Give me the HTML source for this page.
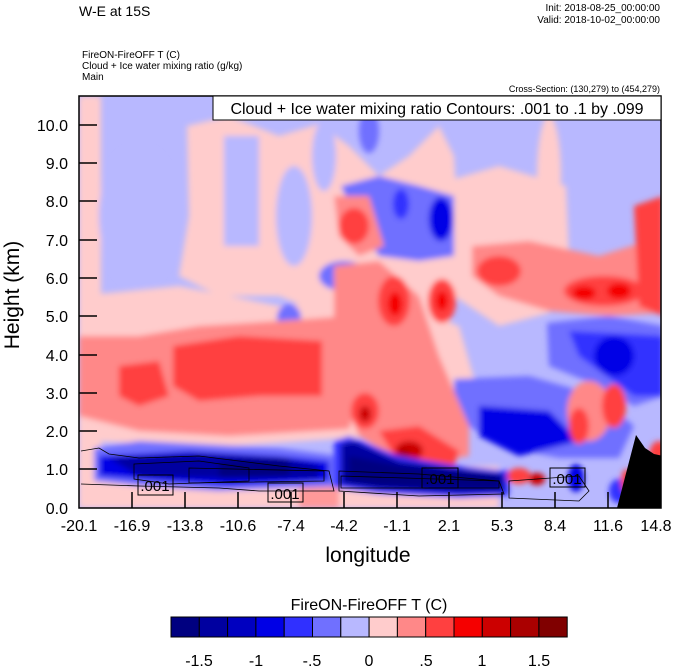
<!DOCTYPE html>
<html><head><meta charset="utf-8"><style>
html,body{margin:0;padding:0;background:#fff;width:674px;height:667px;overflow:hidden}
svg{display:block}
text{font-family:"Liberation Sans",sans-serif}
</style></head><body>
<svg width="674" height="667" xmlns="http://www.w3.org/2000/svg">
<defs>
<clipPath id="pc"><rect x="79" y="96" width="582" height="412"/></clipPath>
<filter id="bl" filterUnits="userSpaceOnUse" x="-20" y="-20" width="630" height="460"><feGaussianBlur stdDeviation="3"/></filter>
</defs>
<text x="79" y="16" font-size="14">W-E at 15S</text>
<text x="660" y="11" font-size="10" text-anchor="end">Init: 2018-08-25_00:00:00</text>
<text x="660" y="23" font-size="10" text-anchor="end">Valid: 2018-10-02_00:00:00</text>
<text x="82" y="58" font-size="10">FireON-FireOFF T   (C)</text>
<text x="82" y="69" font-size="10">Cloud + Ice water mixing ratio   (g/kg)</text>
<text x="82" y="80" font-size="10">Main</text>
<text x="660" y="92" font-size="9" text-anchor="end">Cross-Section: (130,279) to (454,279)</text>

<g clip-path="url(#pc)">
<g transform="translate(79,96)">
<rect x="0" y="0" width="582" height="412" fill="#b8b8ff"/>
<g filter="url(#bl)">
<rect x="0" y="0" width="22" height="412" fill="#ffcccc"/>
<path d="M108,30 L150,20 L200,40 L240,28 L270,50 L300,80 L330,60 L360,30 L375,60 L380,150 L370,233 L300,240 L200,200 L140,200 L100,180 L110,120 Z" fill="#ffcccc"/>
<path d="M0,200 L100,190 L200,210 L300,200 L380,230 L400,300 L380,340 L300,340 L150,350 L0,345 Z" fill="#ffcccc"/>
<path d="M375,83 L420,70 L487,90 L490,160 L470,217 L420,230 L375,200 Z" fill="#ffcccc"/>
<ellipse cx="470" cy="80" rx="12" ry="60" fill="#ffcccc"/>
<rect x="0" y="370" width="420" height="42" fill="#ffcccc"/>
<rect x="220" y="385" width="40" height="27" fill="#ff9999"/>
<rect x="145" y="40" width="35" height="110" fill="#b8b8ff"/>
<ellipse cx="60" cy="120" rx="40" ry="70" fill="#b8b8ff"/>
<ellipse cx="215" cy="120" rx="18" ry="50" fill="#b8b8ff"/>
<ellipse cx="245" cy="60" rx="12" ry="35" fill="#b8b8ff"/>
<path d="M262,90 L300,80 L340,90 L375,100 L375,160 L340,165 L300,160 L280,130 Z" fill="#7070ff"/>
<ellipse cx="362" cy="123" rx="12" ry="22" fill="#0000e6"/>
<ellipse cx="322" cy="108" rx="8" ry="15" fill="#3030ff"/>
<ellipse cx="290" cy="35" rx="10" ry="22" fill="#7070ff"/>
<ellipse cx="265" cy="180" rx="25" ry="15" fill="#7070ff"/>
<ellipse cx="265" cy="180" rx="10" ry="7" fill="#3030ff"/>
<ellipse cx="210" cy="222" rx="12" ry="14" fill="#7070ff"/>
<path d="M375,283 L450,280 L520,300 L555,330 L540,362 L480,362 L420,350 L375,320 Z" fill="#7070ff"/>
<path d="M400,310 L470,315 L500,345 L440,360 L400,340 Z" fill="#0000e6"/>
<path d="M468,227 L530,220 L584,230 L584,300 L555,310 L520,290 L470,270 Z" fill="#7070ff"/>
<path d="M490,235 L584,240 L584,300 L555,300 L500,260 Z" fill="#3030ff"/>
<ellipse cx="535" cy="260" rx="20" ry="20" fill="#0000e6"/>
<ellipse cx="300" cy="270" rx="30" ry="25" fill="#7070ff"/>
<ellipse cx="132" cy="315" rx="10" ry="20" fill="#7070ff"/>
<path d="M0,240 L60,240 L120,230 L200,225 L270,220 L280,300 L270,333 L150,340 L60,335 L0,320 Z" fill="#ff8888"/>
<path d="M94,250 L160,240 L243,245 L243,300 L180,300 L120,305 L94,290 Z" fill="#ff4040"/>
<path d="M40,270 L80,265 L90,300 L60,310 L40,300 Z" fill="#ff4040"/>
<path d="M255,170 L300,165 L340,200 L360,260 L390,330 L390,360 L330,370 L280,340 L255,280 Z" fill="#ff8888"/>
<ellipse cx="315" cy="205" rx="16" ry="25" fill="#ff4040"/>
<ellipse cx="316" cy="208" rx="7" ry="12" fill="#f50000"/>
<ellipse cx="286" cy="315" rx="14" ry="18" fill="#ff4040"/>
<ellipse cx="286" cy="318" rx="6" ry="8" fill="#cc0000"/>
<path d="M300,335 L340,330 L380,355 L375,370 L320,368 Z" fill="#ff4040"/>
<ellipse cx="330" cy="355" rx="14" ry="10" fill="#cc0000"/>
<ellipse cx="325" cy="358" rx="6" ry="5" fill="#aa0000"/>
<ellipse cx="363" cy="205" rx="14" ry="22" fill="#ff4040"/>
<ellipse cx="363" cy="205" rx="6" ry="10" fill="#f50000"/>
<path d="M255,100 L290,100 L305,150 L280,160 L260,140 Z" fill="#ff8888"/>
<ellipse cx="275" cy="130" rx="15" ry="18" fill="#ff4040"/>
<path d="M393,150 L450,145 L520,160 L584,140 L584,217 L530,220 L470,215 L420,200 L393,180 Z" fill="#ff8888"/>
<ellipse cx="420" cy="175" rx="22" ry="15" fill="#ff4040"/>
<ellipse cx="525" cy="195" rx="40" ry="15" fill="#ff4040"/>
<ellipse cx="505" cy="197" rx="12" ry="7" fill="#f50000"/>
<ellipse cx="540" cy="195" rx="12" ry="8" fill="#f50000"/>
<path d="M555,110 L584,100 L584,220 L560,210 Z" fill="#ff4040"/>
<ellipse cx="510" cy="315" rx="22" ry="30" fill="#ff8888"/>
<ellipse cx="535" cy="310" rx="12" ry="22" fill="#ff4040"/>
<ellipse cx="500" cy="330" rx="10" ry="18" fill="#ff4040"/>
<path d="M15,352 L60,345 L120,348 L200,352 L260,360 L270,390 L210,392 L140,395 L60,390 L15,385 Z" fill="#7070ff"/>
<path d="M20,360 L110,355 L200,360 L250,365 L250,385 L150,390 L80,385 L20,380 Z" fill="#0000e6"/>
<path d="M30,362 L120,358 L200,362 L240,370 L240,382 L150,383 L60,380 Z" fill="#0000a0"/>
<path d="M140,365 L210,363 L210,380 L140,382 Z" fill="#000080"/>
<path d="M255,345 L270,340 L320,360 L380,370 L430,375 L430,400 L380,402 L300,398 L255,392 Z" fill="#3030ff"/>
<path d="M262,348 L275,345 L320,365 L380,373 L425,378 L425,396 L380,397 L300,393 L262,388 Z" fill="#0000a0"/>
<path d="M270,360 L320,370 L420,380 L420,393 L300,390 L270,385 Z" fill="#000080"/>
<ellipse cx="440" cy="380" rx="12" ry="8" fill="#ff4040"/>
<ellipse cx="458" cy="383" rx="8" ry="6" fill="#cc0000"/>
<ellipse cx="497" cy="382" rx="8" ry="14" fill="#0000e6"/>
<ellipse cx="540" cy="395" rx="10" ry="12" fill="#3030ff"/>
<ellipse cx="548" cy="385" rx="6" ry="12" fill="#ff4040"/>
<ellipse cx="580" cy="360" rx="10" ry="15" fill="#ff4040"/>
</g>
<path d="M538,412 L557,339 L566,352 L575,358 L584,360 L584,412 Z" fill="#000"/>
<g fill="none" stroke="#000" stroke-width="0.8">
<path d="M2,355 L20,352 L30,358 L60,362 L120,360 L200,370 L250,375 L255,395 L180,395 L140,392 L60,390 L2,388"/>
<path d="M55,368 L120,365 L170,372 L170,385 L90,388 L55,383 Z"/>
<path d="M110,372 L245,375 L245,385 L110,387 Z"/>
<path d="M260,375 L340,378 L420,385 L425,398 L340,400 L260,395 Z"/>
<path d="M262,380 L420,385 L420,392 L262,392 Z"/>
<path d="M430,385 L500,380 L510,395 L500,405 L430,402 Z"/>
</g>
</g>
</g>
<g font-size="15" text-anchor="middle">
<rect x="138" y="475" width="35" height="20" fill="none" stroke="#000"/><text x="155" y="491">.001</text>
<rect x="268" y="483" width="35" height="19" fill="none" stroke="#000"/><text x="285" y="499">.001</text>
<rect x="422" y="468" width="36" height="20" fill="none" stroke="#000"/><text x="440" y="484">.001</text>
<rect x="550" y="468" width="35" height="19" fill="none" stroke="#000"/><text x="567" y="484">.001</text>
</g>
<rect x="79" y="96" width="582" height="412" fill="none" stroke="#000" stroke-width="1.5"/>
<rect x="213" y="96" width="448" height="24" fill="#fff" stroke="#000" stroke-width="1"/>
<text x="437" y="114" font-size="16" text-anchor="middle">Cloud + Ice water mixing ratio Contours: .001 to .1 by .099</text>
<g stroke="#000" stroke-width="1.5">
<line x1="79" y1="125" x2="97" y2="125"/><line x1="79" y1="163" x2="97" y2="163"/><line x1="79" y1="201" x2="97" y2="201"/><line x1="79" y1="240" x2="97" y2="240"/><line x1="79" y1="278" x2="97" y2="278"/><line x1="79" y1="316" x2="97" y2="316"/><line x1="79" y1="355" x2="97" y2="355"/><line x1="79" y1="393" x2="97" y2="393"/><line x1="79" y1="431" x2="97" y2="431"/><line x1="79" y1="469" x2="97" y2="469"/>
<line x1="132" y1="508" x2="132" y2="492"/><line x1="185" y1="508" x2="185" y2="492"/><line x1="238" y1="508" x2="238" y2="492"/><line x1="291" y1="508" x2="291" y2="492"/><line x1="344" y1="508" x2="344" y2="492"/><line x1="397" y1="508" x2="397" y2="492"/><line x1="449" y1="508" x2="449" y2="492"/><line x1="502" y1="508" x2="502" y2="492"/><line x1="555" y1="508" x2="555" y2="492"/><line x1="608" y1="508" x2="608" y2="492"/>
</g>
<g font-size="16" text-anchor="end">
<text x="68" y="131">10.0</text><text x="68" y="169">9.0</text><text x="68" y="207">8.0</text><text x="68" y="246">7.0</text><text x="68" y="284">6.0</text><text x="68" y="322">5.0</text><text x="68" y="361">4.0</text><text x="68" y="399">3.0</text><text x="68" y="437">2.0</text><text x="68" y="475">1.0</text><text x="68" y="514">0.0</text>
</g>
<g font-size="16" text-anchor="middle">
<text x="79" y="531">-20.1</text><text x="132" y="531">-16.9</text><text x="185" y="531">-13.8</text><text x="238" y="531">-10.6</text><text x="291" y="531">-7.4</text><text x="344" y="531">-4.2</text><text x="397" y="531">-1.1</text><text x="449" y="531">2.1</text><text x="502" y="531">5.3</text><text x="555" y="531">8.4</text><text x="608" y="531">11.6</text><text x="656" y="531">14.8</text>
</g>
<text x="368" y="562" font-size="21" text-anchor="middle">longitude</text>
<text transform="translate(19,295) rotate(-90)" font-size="21" text-anchor="middle">Height (km)</text>
<text x="369" y="610" font-size="16" text-anchor="middle">FireON-FireOFF T  (C)</text>
<g stroke="#000" stroke-width="1">
<rect x="171" y="617" width="28.3" height="20" fill="#000080"/>
<rect x="199.3" y="617" width="28.3" height="20" fill="#0000a0"/>
<rect x="227.6" y="617" width="28.3" height="20" fill="#0000c0"/>
<rect x="255.9" y="617" width="28.3" height="20" fill="#0000e6"/>
<rect x="284.2" y="617" width="28.3" height="20" fill="#3030ff"/>
<rect x="312.5" y="617" width="28.3" height="20" fill="#7070ff"/>
<rect x="340.8" y="617" width="28.3" height="20" fill="#b8b8ff"/>
<rect x="369.1" y="617" width="28.3" height="20" fill="#ffcccc"/>
<rect x="397.4" y="617" width="28.3" height="20" fill="#ff8888"/>
<rect x="425.7" y="617" width="28.3" height="20" fill="#ff4040"/>
<rect x="454" y="617" width="28.3" height="20" fill="#f50000"/>
<rect x="482.3" y="617" width="28.3" height="20" fill="#cc0000"/>
<rect x="510.6" y="617" width="28.3" height="20" fill="#aa0000"/>
<rect x="538.9" y="617" width="28.3" height="20" fill="#800000"/>
</g>
<g font-size="16" text-anchor="middle">
<text x="199" y="666">-1.5</text><text x="256" y="666">-1</text><text x="312" y="666">-.5</text><text x="369" y="666">0</text><text x="426" y="666">.5</text><text x="482" y="666">1</text><text x="539" y="666">1.5</text>
</g>
</svg>
</body></html>
